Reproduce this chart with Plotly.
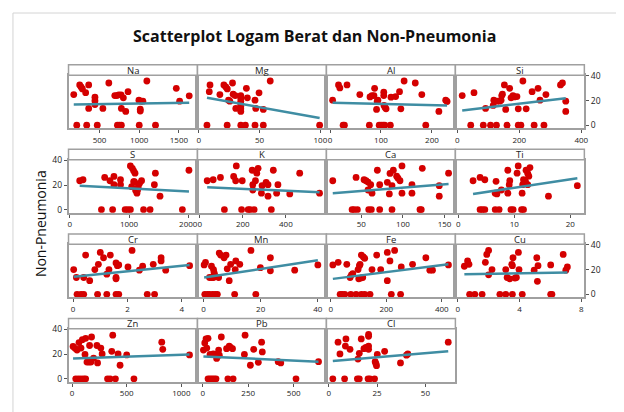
import numpy as np
import plotly.graph_objects as go

W, H = 624, 412

names = ["Na", "Mg", "Al", "Si", "S", "K", "Ca", "Ti", "Cr", "Mn", "Fe", "Cu", "Zn", "Pb", "Cl"]

na_x = [175, 250, 267, 284, 325, 363, 617, 442, 442, 442, 363, 542, 775, 830, 692, 717, 742, 771, 800, 859, 996, 1021, 1046, 1013, 1013, 1096, 1467, 1509, 1630,
        213, 338, 471, 725, 750, 775, 1000, 1205]
na_y = [24.8, 32.6, 31, 29.4, 26.4, 32.6, 34.2, 22.7, 19.8, 16.8, 13.6, 13.6, 13.6, 11.2, 24, 24, 24.6, 24.6, 22.2, 27.2, 20.3, 19.5, 19.5, 13, 11.5, 35.8, 29.9, 19.5, 23.8,
        0, 0, 0, 0, 0, 0, 0, 0]

mg_x = [9.3, 8.7, 17.4, 20.7, 22.3, 23.5, 27.8, 28.3, 30, 24.5, 25.6, 34.6, 34.6, 34.6, 34.6, 34.6, 34.6, 34.6, 30.5, 39.2, 40, 46.3, 49.6, 46.9, 53.1, 58.8,
        6.8, 23.4, 34.6, 38.4, 46.3, 53.1, 99.4]
mg_y = [32.6, 27.2, 24.8, 32.6, 31, 29.4, 34.2, 25.1, 24, 20.3, 19.5, 24, 21.9, 19.5, 17.4, 15.2, 13.3, 11.2, 13.6, 29.9, 22.2, 20.3, 26.2, 13.6, 12.8, 35.8,
        0, 0, 0, 0, 0, 0, 0]

al_x = [5.1, 16.7, 19.3, 33.4, 58.5, 78.5, 82.3, 86.2, 87.5, 94, 92.6, 91.3, 105.5, 105.5, 106, 108, 110, 119.7, 128.7, 136.4, 145.4, 139, 167.3, 180.1, 213.6, 227, 229.7,
        25.7, 28.3, 77.2, 96.5, 100.4, 104.2, 107.4, 118.4, 187.9]
al_y = [20.3, 32.6, 30.2, 32.6, 24.8, 22.9, 24, 24, 29.9, 20.3, 19.5, 12.8, 26.7, 24, 16, 14.4, 13.3, 22.7, 23.2, 27.2, 35.8, 13.3, 34.2, 24.8, 11.2, 20.3, 19.2,
        0, 0, 0, 0, 0, 0, 0, 0, 0]

si_x = [16, 54, 91.4, 116, 118, 128.6, 137, 141.4, 143.5, 145.7, 152, 156.3, 169, 173.3, 179.7, 184, 192.5, 196.8, 211.7, 222.3, 241.4, 260.6, 267, 286, 333, 339.3, 350, 350,
        43.5, 84, 107.4, 126.5, 160.6, 196.8, 205.3, 248, 279.7]
si_y = [24, 26.4, 13.6, 16, 20.3, 19.5, 19.5, 20.3, 24, 25.1, 32.6, 12.8, 29.9, 22.2, 24, 22.9, 23.2, 13.3, 35.8, 13.3, 27.2, 29.9, 20.3, 24.8, 32.6, 34.2, 19.5, 11.2,
        0, 0, 0, 0, 0, 0, 0, 0, 0]

s_x = [167, 223, 589, 678, 745, 745, 856, 856, 1023, 1056, 1078, 1101, 1078, 1045, 1090, 1112, 1134, 1156, 1178, 1212, 1145, 1428, 1445, 1523, 2012,
       534, 723, 934, 978, 1023, 1245, 1356, 1901]
s_y = [23.5, 24.3, 26.2, 23.5, 27, 20.3, 24.3, 20.3, 35.5, 33.6, 31.5, 29.6, 22.7, 18.7, 22.7, 15.5, 13.4, 18.7, 21.4, 23.5, 16, 20.3, 29.6, 11, 32,
       0, 0, 0, 0, 0, 0, 0, 0]

k_x = [35, 62.7, 96.4, 157.7, 170, 167, 197.5, 243.6, 246.6, 246.6, 258.8, 265, 271, 286.5, 289.5, 308, 317, 317, 341.6, 357, 363, 418, 464, 556,
       114.8, 194.5, 225, 234, 252.7, 332.4]
k_y = [23.5, 24.3, 26.2, 27, 35.5, 23.5, 23.5, 32, 20.3, 16, 23.5, 29.6, 33.6, 13.4, 19.5, 22.2, 11, 20.3, 32, 13.4, 20.3, 12.8, 29.6, 13.4,
       0, 0, 0, 0, 0, 0]

ca_x = [15.6, 43.6, 53.2, 55.6, 58, 61.2, 58, 62.8, 69.2, 72, 81.2, 83.6, 84.4, 86.8, 88.4, 92.4, 94, 96.4, 98.8, 98.8, 110.8, 110.8, 123.2, 143.6, 143.6, 154.8,
        38.8, 41.2, 45.2, 58.8, 62, 72, 86.8, 120.4, 122]
ca_y = [23.5, 26.2, 24.3, 23.5, 22.4, 20.3, 16, 13.4, 32, 20.3, 22.2, 12.8, 29.4, 19.5, 32, 27.2, 25.6, 23.5, 35.5, 13.4, 20.3, 13.4, 33.6, 19.5, 11, 29.6,
        0, 0, 0, 0, 0, 0, 0, 0, 0]

ti_x = [2.65, 3.9, 4.75, 6.75, 6.6, 6.9, 7.7, 8.85, 8.85, 9.2, 9.1, 10.5, 10.7, 11.4, 11.5, 11.65, 12, 12.1, 12.4, 12.6, 12.8, 12.4, 16.1, 21.25,
        3.9, 4.3, 4.75, 6.6, 7.3, 9.4, 9.8, 11.3, 11.65]
ti_y = [23.5, 26.2, 24.3, 23, 13.4, 12.8, 16, 32, 13.4, 23.5, 20.3, 29.6, 35.5, 13.4, 20.3, 24.3, 23, 32, 29.4, 27.2, 34.2, 20.3, 11, 19.5,
        0, 0, 0, 0, 0, 0, 0, 0, 0]

cr_x = [0.02, 0.12, 0.39, 0.46, 0.61, 0.80, 0.93, 1.0, 1.12, 1.24, 1.32, 1.37, 1.58, 1.58, 1.58, 1.63, 1.68, 2.02, 2.17, 2.44, 2.56, 2.95, 3.24, 3.24, 3.41, 4.29,
        0.145, 0.29, 0.39, 0.9, 1.24, 1.58, 1.68, 2.73, 3.0]
cr_y = [20, 13.6, 13.6, 31.8, 11, 20, 24.3, 33.9, 29.6, 16.3, 20, 31.8, 25.4, 13.6, 12.5, 23.2, 23.8, 22.2, 35.5, 19.5, 22.7, 24.3, 29.6, 27, 19.5, 23.2,
        0, 0, 0, 0, 0, 0, 0, 0, 0]

mn_x = [0.23, 0.7, 2.8, 3.5, 2.1, 2.8, 3.5, 3.9, 3.7, 5.5, 6, 5.3, 7.2, 7.9, 8.3, 9, 9.5, 11.3, 11.1, 12.7, 16.6, 19.9, 23.4, 23.4, 31.9, 40,
        0.46, 1.4, 2.1, 3.2, 4.1, 4.85, 10.9, 18.3]
mn_y = [23.8, 25.9, 22.7, 20, 13.6, 13.6, 13.6, 15.8, 17.6, 33.4, 31.8, 13.6, 29.6, 31.8, 20.6, 11, 24.3, 27, 20, 24.3, 35.5, 21.6, 29.6, 19, 19.5, 23.8,
        0, 0, 0, 0, 0, 0, 0, 0]

fe_x = [7.1, 26.3, 57.4, 69.4, 74.2, 79, 98.1, 102.9, 105.3, 100.5, 107.7, 114.9, 110, 117.3, 122, 148.4, 165.2, 179.6, 203.5, 203.5, 213, 229.9, 253.8, 294.5, 342.5, 356.8, 366.4, 423.9,
        33.4, 40.6, 50.2, 71.8, 90.9, 110, 122, 141.2, 217.9, 251.4]
fe_y = [23.8, 25.9, 24.3, 13.6, 15.8, 16.8, 20, 23.2, 24.3, 12.5, 13.1, 13.6, 31.8, 30.2, 29.1, 20, 31.8, 20, 33.9, 11, 27, 35.5, 22.2, 24.3, 29.6, 19.5, 19.5, 23.8,
        0, 0, 0, 0, 0, 0, 0, 0, 0, 0]

cu_x = [0.43, 0.64, 0.73, 1.79, 1.88, 2.0, 2.0, 2.22, 3.11, 3.2, 3.37, 3.5, 3.54, 3.58, 3.71, 3.8, 3.93, 3.97, 4.95, 5.12, 5.16, 5.2, 6.02, 6.83, 7.0, 7.1,
        0.77, 1.11, 1.58, 2.73, 3.11, 3.54, 4.18, 6.02, 6.1]
cu_y = [22.7, 27, 24.3, 25.9, 32.3, 35.5, 15.8, 20, 20, 13.6, 12.5, 24.3, 23.2, 29.6, 13.1, 13.6, 33.9, 20, 19.5, 29.6, 10.5, 23.2, 23.8, 32.3, 19.5, 22.2,
        0, 0, 0, 0, 0, 0, 0, 0, 0]

zn_x = [8.7, 27, 45, 63, 81.5, 93.6, 118, 124, 136, 154, 160, 172, 178, 196.6, 227, 233, 263, 275, 363, 372, 421, 439, 499.6, 821, 830, 1075,
        33, 57, 81.5, 106, 124, 324, 348, 396.6, 566]
zn_y = [26.2, 24.7, 23.3, 29.4, 24.9, 31.7, 19.7, 32.8, 13.6, 13.6, 27, 13.6, 33.9, 16.8, 27, 12.9, 24.9, 20.2, 22.3, 35.4, 20.2, 11, 19.4, 29.7, 23.9, 19.4,
        0, 0, 0, 0, 0, 0, 0, 0, 0]

pb_x = [3.7, 11, 18, 29, 22, 40, 58, 69, 76.4, 87.3, 91, 102, 131, 145.5, 152.7, 163.7, 229, 232.7, 261.8, 280, 305.5, 323.6, 327.3, 414.6, 429, 636.4,
        29, 40, 51, 62, 73, 138, 167, 512.7]
pb_y = [23.3, 29.1, 32.3, 32.8, 24.9, 19.7, 20.2, 19.7, 16.5, 23.3, 19.2, 33.9, 24.4, 26.5, 25.5, 24.4, 19.7, 35.4, 11, 23.9, 13.4, 29.7, 21.8, 13.9, 12.9, 13.9,
        0, 0, 0, 0, 0, 0, 0, 0]

cl_x = [4.8, 5.8, 8.9, 8.6, 11, 15.1, 15.8, 16.8, 18.2, 19.2, 20.6, 20.6, 20.6, 20.6, 24, 24.4, 24.7, 25.1, 28.9, 37.1, 40.2, 40.9, 61.8,
        2.1, 8.2, 14.8, 15.8, 20.3, 21.3, 23.7]
cl_y = [29.7, 20.2, 32.3, 26.5, 23.9, 16, 20.7, 32.3, 24.4, 25.5, 35.9, 34.4, 26.5, 23.9, 13.9, 12.3, 10.7, 19.7, 22.3, 12.9, 19.2, 20.2, 29.7,
        0, 0, 0, 0, 0, 0, 0]

# fitted (regression) values at the smallest and largest x of each panel
fit_at_min = [16.8, 22.2, 18.2, 12.0, 19.5, 18.2, 13.4, 12.8, 14.2, 13.6, 12.5, 16.3, 16.5, 18.1, 14.4]
fit_at_max = [18.2, 5.9, 16.0, 21.9, 14.7, 14.2, 20.8, 25.6, 23.8, 27.5, 24.3, 17.6, 19.7, 13.9, 22.3]

x_data = [na_x, mg_x, al_x, si_x, s_x, k_x, ca_x, ti_x, cr_x, mn_x, fe_x, cu_x, zn_x, pb_x, cl_x]
y_data = [na_y, mg_y, al_y, si_y, s_y, k_y, ca_y, ti_y, cr_y, mn_y, fe_y, cu_y, zn_y, pb_y, cl_y]

x_ranges = [[109, 1734], [-1, 105], [-7, 246], [-6, 410],
            [-22, 2156], [-10.1, 588], [8, 163], [-0.5, 22.5],
            [-0.17, 4.58], [-2.1, 43], [-16, 449], [-0.15, 8.2],
            [-33, 1148], [-29, 680], [-1.2, 65.5]]
x_ticks = [[500, 1000, 1500], [0, 50, 100], [0, 100, 200], [0, 200, 400],
           [0, 1000, 2000], [0, 200, 400], [50, 100, 150], [0, 10, 20],
           [0, 2, 4], [0, 20, 40], [0, 200, 400], [0, 4, 8],
           [0, 500, 1000], [0, 250, 500], [0, 25, 50]]
y_ticks = [0, 20, 40]
y_range = [-2.5, 40.5]

FONT = "Open Sans"
GRID = "#a0a0a0"
DOT = "#d40000"
LINE = "#3f8da3"

# the page body adds an 8px margin around the figure; compensate so that
# page-pixel positions land where they should
OFF = 8


def fx(px):
    return (px - OFF) / W


def fy(py):
    return 1 - (py - OFF) / H


fig = go.Figure()
shapes = []
annotations = []
layout = {}

for i, name in enumerate(names):
    r, c = divmod(i, 4)
    px0 = 68 + 130 * c
    px1 = px0 + 130
    top = 71.3 + 86 * r
    bot = top + 54
    k = "" if i == 0 else str(i + 1)
    xs = x_data[i]
    ys = y_data[i]
    fig.add_trace(go.Scatter(x=xs, y=ys, mode="markers", xaxis="x" + k, yaxis="y" + k,
                             marker=dict(color=DOT, size=6.8, line=dict(width=0)),
                             showlegend=False, hoverinfo="x+y"))
    fig.add_trace(go.Scatter(x=[min(xs), max(xs)], y=[fit_at_min[i], fit_at_max[i]], mode="lines",
                             xaxis="x" + k, yaxis="y" + k,
                             line=dict(color=LINE, width=2.5), showlegend=False, hoverinfo="skip"))

    show_y = i in (3, 11, 4, 12)
    side = "right" if i in (3, 11) else "left"
    layout["xaxis" + k] = dict(domain=[fx(px0), fx(px1)], range=x_ranges[i], tickvals=x_ticks[i],
                               anchor="y" + k, showline=True, mirror=True, linecolor=GRID, linewidth=1.5,
                               ticks="outside", ticklen=3, tickcolor="#555", showgrid=False, zeroline=False,
                               tickfont=dict(size=8, color="#222", family=FONT), fixedrange=True)
    layout["yaxis" + k] = dict(domain=[fy(bot), fy(top)], range=y_range, tickvals=y_ticks,
                               anchor="x" + k, showline=True, mirror=True, linecolor=GRID, linewidth=1.5,
                               ticks="outside" if show_y else "", ticklen=3, tickcolor="#555",
                               showticklabels=show_y, side=side, showgrid=False, zeroline=False,
                               tickfont=dict(size=8.5, color="#222", family=FONT), fixedrange=True)
    shapes.append(dict(type="rect", xref="paper", yref="paper", x0=fx(px0), x1=fx(px1),
                       y0=fy(top), y1=fy(top - 10.6), line=dict(color=GRID, width=1.5),
                       fillcolor="white", layer="above"))
    annotations.append(dict(text=name, xref="paper", yref="paper", x=fx((px0 + px1) / 2),
                            y=fy(top - 5.3), showarrow=False, xanchor="center", yanchor="middle",
                            font=dict(size=9.5, color="#222", family=FONT)))

shapes.append(dict(type="rect", xref="paper", yref="paper", x0=fx(12), x1=1.05, y0=-0.05, y1=fy(8),
                   line=dict(color="#d4d4d4", width=1), layer="below"))
annotations.append(dict(text="<b>Scatterplot Logam Berat dan Non-Pneumonia</b>", xref="paper", yref="paper",
                        x=fx(316), y=fy(31), showarrow=False, xanchor="center", yanchor="middle",
                        font=dict(size=16, color="#111", family=FONT)))
annotations.append(dict(text="Non-Pneumonia", xref="paper", yref="paper", x=fx(40), y=fy(222),
                        showarrow=False, textangle=-90, xanchor="center", yanchor="middle",
                        font=dict(size=14, color="#111", family=FONT)))

fig.update_layout(width=W, height=H, margin=dict(l=0, r=0, t=0, b=0), paper_bgcolor="white",
                  plot_bgcolor="white", shapes=shapes, annotations=annotations, **layout)
fig.write_html("out.html")
